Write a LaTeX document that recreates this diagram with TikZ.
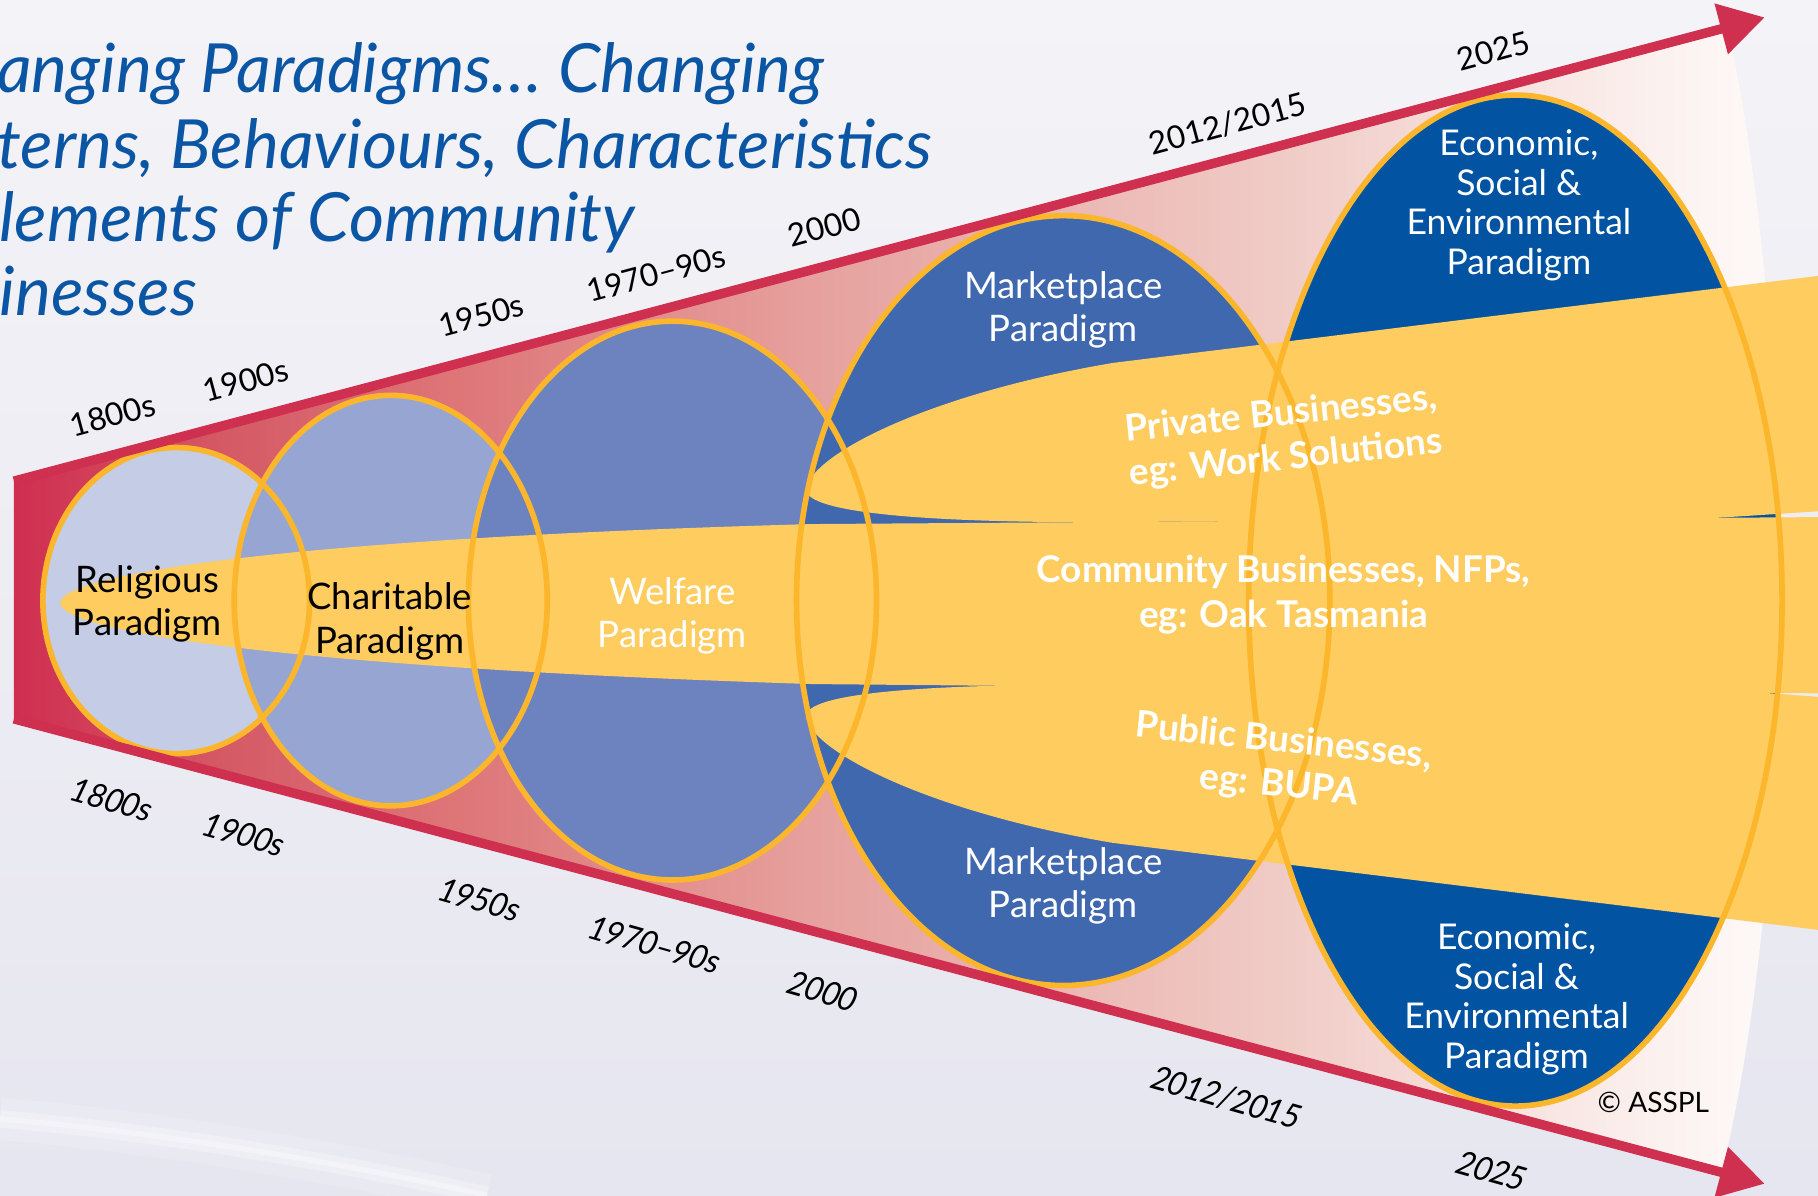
\documentclass[tikz,border=0pt]{standalone}
\usepackage{fontspec}
\setmainfont{Lato}
\usetikzlibrary{arrows.meta}

\definecolor{bgtop}{HTML}{F4F3F7}
\definecolor{bgbot}{HTML}{E6E6F0}
\definecolor{arrowred}{HTML}{D0304F}
\definecolor{ringorange}{HTML}{FBB62B}
\definecolor{bandyellow}{HTML}{FECC5F}
\definecolor{titleblue}{HTML}{0B56A4}
\definecolor{religcol}{HTML}{C4CCE6}
\definecolor{charitcol}{HTML}{96A5D2}
\definecolor{welfcol}{HTML}{6D83BF}
\definecolor{marketcol}{HTML}{4068AF}
\definecolor{ecocol}{HTML}{0254A3}
\definecolor{coneA}{HTML}{D02E50}
\definecolor{coneB}{HTML}{D55A66}
\definecolor{coneC}{HTML}{DE7678}
\definecolor{coneD}{HTML}{E6A19E}
\definecolor{coneE}{HTML}{F0CBC6}
\definecolor{coneF}{HTML}{FCF4F2}
\definecolor{coneG}{HTML}{FEFAF9}

\pgfdeclarehorizontalshading{conefade}{100bp}{color(0bp)=(coneA); color(25bp)=(coneA); color(31bp)=(coneB); color(37.5bp)=(coneC); color(47.5bp)=(coneD); color(60.5bp)=(coneE); color(72bp)=(coneF); color(75bp)=(coneG); color(100bp)=(coneG)}

\tikzset{
  ring/.style={draw=ringorange, line width=1.6pt},
  timeline/.style={draw=arrowred, line width=2.7pt, -{Triangle[length=0.45cm, width=0.5cm]}},
  titletxt/.style={anchor=base west, inner sep=0pt, text=titleblue, font=\fontsize{19.3}{21}\selectfont\itshape},
  yearlbl/.style={inner sep=0pt, font=\fontsize{9}{10}\selectfont},
  paradigm/.style={align=center, inner sep=0pt, font=\fontsize{10.4}{12.3}\selectfont},
  ecolbl/.style={paradigm, text=white, font=\fontsize{10.1}{11.3}\selectfont},
  biztxt/.style={align=center, inner sep=0pt, text=white, font=\fontsize{10.5}{12.6}\selectfont\bfseries}
}

\begin{document}
\begin{tikzpicture}[x=0.011594cm, y=-0.011594cm]
  \useasboundingbox (0,0) rectangle (1568,1031);
  \fill[top color=bgtop, bottom color=bgbot] (0,0) rectangle (1568,1031);
  \draw[white, line width=12pt, opacity=0.15] (0,965) .. controls (150,978) and (300,1004) .. (420,1031);
  \draw[white, line width=5pt, opacity=0.25] (0,965) .. controls (150,978) and (300,1004) .. (420,1031);
  \draw[white, line width=1.5pt, opacity=0.35] (0,965) .. controls (150,978) and (300,1004) .. (420,1031);

  % cone
  \shade[shading=conefade] (12,415) -- (1490,23) .. controls (1550,300) and (1550,740) .. (1485,1012) -- (12,620) -- cycle;

  % paradigm fills
  \fill[religcol] (152,518) ellipse [x radius=115, y radius=132];
  \fill[charitcol] (337,518) ellipse [x radius=135, y radius=177];
  \fill[welfcol] (580,518) ellipse [x radius=176, y radius=241];
  \fill[marketcol] (917,518) ellipse [x radius=230, y radius=332];
  \fill[ecocol] (1307,518) ellipse [x radius=230, y radius=436];

  % business bands
  \fill[bandyellow] (695,422) .. controls (700,392) and (800,340) .. (960,313) -- (1568,238) -- (1568,441) -- (1460,448) -- (1000,450) .. controls (850,452) and (695,447) .. (695,422);
  \fill[bandyellow] (52,520) .. controls (52,497) and (230,465) .. (700,452) -- (1568,446) -- (1568,598) -- (700,590) .. controls (230,575) and (52,543) .. (52,520);
  \fill[bandyellow] (695,618) .. controls (695,593) and (850,589) .. (1000,591) -- (1460,593) -- (1568,601) -- (1568,802) -- (960,727) .. controls (800,700) and (700,648) .. (695,618);

  % paradigm rings
  \draw[ring] (152,518) ellipse [x radius=115, y radius=132];
  \draw[ring] (337,518) ellipse [x radius=135, y radius=177];
  \draw[ring] (580,518) ellipse [x radius=176, y radius=241];
  \draw[ring] (917,518) ellipse [x radius=230, y radius=332];
  \draw[ring] (1307,518) ellipse [x radius=230, y radius=436];

  % time arrows
  \coordinate (startT) at (12,415);
  \coordinate (startB) at (12,620);
  \coordinate (endT) at (1522,15);
  \coordinate (endB) at (1522,1021);
  \draw[timeline] (startT) -- (endT);
  \draw[timeline] (startB) -- (endB);

  % title
  \node[titletxt] (ttlA) at (-3,80) {anging Paradigms… Changing};
  \node[titletxt] (ttlB) at (-3,145) {terns, Behaviours, Characteristics};
  \node[titletxt] (ttlC) at (-1,208) {lements of Community};
  \node[titletxt] (ttlD) at (-1,272) {inesses};

  % years
  \foreach \yr/\px/\py [count=\i] in {1800s/97/358, 1900s/212/328, 1950s/415/272, 1970–90s/566/236, 2000/711/196, {2012/2015}/1059/107, 2025/1288/44}
    \node[yearlbl, rotate=15] (yrT\i) at (\px,\py) {\yr};
  \foreach \yr/\px/\py [count=\i] in {1800s/97/690, 1900s/211/720, 1950s/414/776, 1970–90s/565/815, 2000/710/855, {2012/2015}/1058/947, 2025/1287/1010}
    \node[yearlbl, xslant=0.2, rotate=-15, transform shape] (yrB\i) at (\px,\py) {\yr};

  % paradigm names
  \node[paradigm] (relig) at (127,521) {Religious\\Paradigm};
  \node[paradigm] (charit) at (336,536) {Charitable\\Paradigm};
  \node[paradigm, text=white] (welf) at (580,531) {Welfare\\Paradigm};
  \node[paradigm, text=white] (mktUp) at (917,267) {Marketplace\\Paradigm};
  \node[paradigm, text=white] (mktLo) at (917,764) {Marketplace\\Paradigm};
  \node[ecolbl] (ecoUp) at (1310,177) {Economic,\\Social \&\\Environmental\\Paradigm};
  \node[ecolbl] (ecoLo) at (1308,862) {Economic,\\Social \&\\Environmental\\Paradigm};

  % business types
  \node[biztxt, rotate=6] (bizPriv) at (1107,377) {Private Businesses,\\eg: Work Solutions};
  \node[biztxt] (bizComm) at (1107,513) {Community Businesses, NFPs,\\eg: Oak Tasmania};
  \node[biztxt, rotate=-6] (bizPub) at (1105,659) {Public Businesses,\\eg: BUPA};

  \node[inner sep=0pt, font=\fontsize{8}{9}\selectfont] (copyr) at (1426,951) {© ASSPL};
\end{tikzpicture}
\end{document}
